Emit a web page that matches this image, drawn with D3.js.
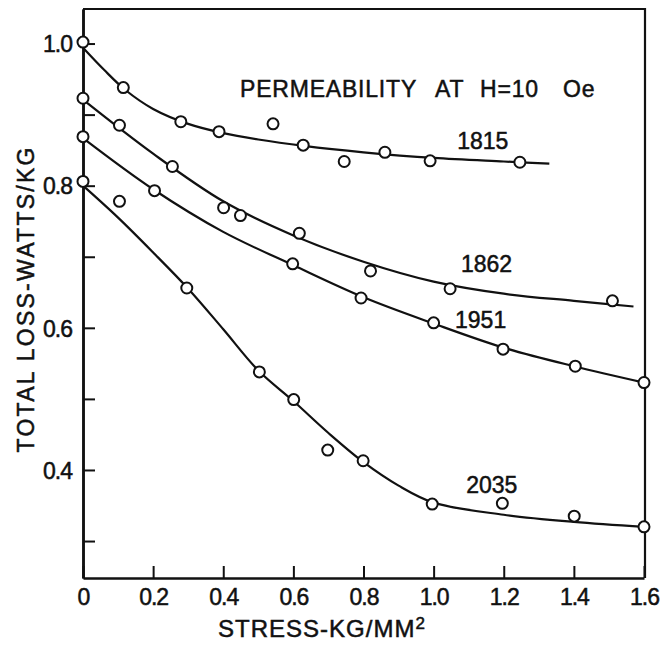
<!doctype html>
<html>
<head>
<meta charset="UTF-8">
<title>Total loss vs stress</title>
<script src="https://d3js.org/d3.v7.min.js"></script>
<style>
  body { margin: 0; background: #fff; }
  text { font-family: "Liberation Sans", Arial, sans-serif; fill: #111; stroke: #111; stroke-width: 0.5px; }
</style>
</head>
<body>
<svg id="chart" width="666" height="648"></svg>
<script>
// measured points (stress kg/mm2, total loss W/kg)
var stress1815 = [0, 0.115, 0.279, 0.388, 0.542, 0.628, 0.745, 0.861, 0.99, 1.246];
var loss1815   = [1.002, 0.938, 0.890, 0.876, 0.887, 0.857, 0.834, 0.847, 0.835, 0.833];
var stress1862 = [0, 0.104, 0.255, 0.401, 0.449, 0.617, 0.82, 1.047, 1.51];
var loss1862   = [0.923, 0.885, 0.827, 0.769, 0.758, 0.733, 0.680, 0.655, 0.638];
var stress1951 = [0, 0.204, 0.598, 0.793, 1.0, 1.198, 1.404, 1.6];
var loss1951   = [0.869, 0.793, 0.690, 0.642, 0.607, 0.570, 0.546, 0.523];
var stress2035 = [0, 0.104, 0.296, 0.503, 0.601, 0.698, 0.799, 0.996, 1.196, 1.401, 1.6];
var loss2035   = [0.806, 0.778, 0.656, 0.538, 0.499, 0.428, 0.413, 0.352, 0.353, 0.335, 0.320];

// hand drawn smooth curves
var fitX1815 = [0, 0.06, 0.12, 0.2, 0.3, 0.4, 0.5, 0.63, 0.8, 1.0, 1.2, 1.33];
var fitY1815 = [0.994, 0.963, 0.935, 0.908, 0.887, 0.874, 0.865, 0.856, 0.847, 0.839, 0.834, 0.831];
var fitX1862 = [0, 0.2, 0.4, 0.6, 0.8, 1.0, 1.2, 1.4, 1.57];
var fitY1862 = [0.921, 0.845, 0.778, 0.730, 0.693, 0.665, 0.648, 0.638, 0.630];
var fitX1951 = [0, 0.2, 0.4, 0.6, 0.8, 1.0, 1.2, 1.4, 1.6];
var fitY1951 = [0.867, 0.795, 0.735, 0.688, 0.643, 0.606, 0.572, 0.546, 0.523];
var fitX2035 = [0, 0.1, 0.2, 0.3, 0.4, 0.5, 0.6, 0.7, 0.8, 0.9, 1.0, 1.2, 1.4, 1.6];
var fitY2035 = [0.80, 0.755, 0.706, 0.655, 0.598, 0.540, 0.497, 0.452, 0.411, 0.378, 0.354, 0.337, 0.327, 0.320];

var seriesNames = ["1815", "1862", "1951", "2035"];

// ticks
var xTicks = [0, 0.2, 0.4, 0.6, 0.8, 1.0, 1.2, 1.4, 1.6];
var xTickLabels = ["0", "0.2", "0.4", "0.6", "0.8", "1.0", "1.2", "1.4", "1.6"];
var yTicks = [0.4, 0.6, 0.8, 1.0];
var yTickLabels = ["0.4", "0.6", "0.8", "1.0"];
var yMinorTicks = [0.3, 0.5, 0.7, 0.9];

var svg = d3.select("#chart");

var x = d3.scaleLinear().domain([0, 1.6]).range([83, 644]);
var y = d3.scaleLinear().domain([0.248, 1.0486]).range([578, 9]);

var series = [
  {name: seriesNames[0], sx: stress1815, sy: loss1815, fx: fitX1815, fy: fitY1815, lx: 1.14, ly: 0.851},
  {name: seriesNames[1], sx: stress1862, sy: loss1862, fx: fitX1862, fy: fitY1862, lx: 1.151, ly: 0.679},
  {name: seriesNames[2], sx: stress1951, sy: loss1951, fx: fitX1951, fy: fitY1951, lx: 1.134, ly: 0.600},
  {name: seriesNames[3], sx: stress2035, sy: loss2035, fx: fitX2035, fy: fitY2035, lx: 1.166, ly: 0.368}
];

// frame (top + right)
svg.append("path")
  .attr("d", "M" + x.range()[0] + "," + y.range()[1] + "H" + (x.range()[1] + 1) + "V" + y.range()[0])
  .attr("fill", "none")
  .attr("stroke", "#111")
  .attr("stroke-width", 2.2);

// axes
var xAxis = d3.axisBottom(x)
  .tickValues(xTicks)
  .tickFormat(function(d, i){ return xTickLabels[i]; })
  .tickSizeInner(-12).tickSizeOuter(0).tickPadding(11);

var gx = svg.append("g").attr("transform", "translate(0," + y.range()[0] + ")").call(xAxis);

var yMinor = d3.axisLeft(y)
  .tickValues(yMinorTicks)
  .tickFormat("")
  .tickSizeInner(-12).tickSizeOuter(0);
var gym = svg.append("g").attr("transform", "translate(" + x.range()[0] + ",0)").call(yMinor);

var yAxis = d3.axisLeft(y)
  .tickValues(yTicks)
  .tickFormat(function(d, i){ return yTickLabels[i]; })
  .tickSizeInner(-12).tickSizeOuter(0).tickPadding(11);
var gy = svg.append("g").attr("transform", "translate(" + x.range()[0] + ",0)").call(yAxis);

[gx, gy, gym].forEach(function(g){
  g.select(".domain").attr("stroke", "#111").attr("stroke-width", 2.5);
  g.selectAll(".tick line").attr("stroke", "#111").attr("stroke-width", 2);
  g.selectAll(".tick text")
    .style("font-family", "'Liberation Sans', Arial, sans-serif")
    .style("font-size", "23px")
    .attr("fill", "#111")
    .attr("letter-spacing", -1);
});
gy.selectAll(".tick text").attr("dy", "0.36em");

// curves
var line = d3.line()
  .x(function(d){ return x(d[0]); })
  .y(function(d){ return y(d[1]); })
  .curve(d3.curveCatmullRom.alpha(0.5));

series.forEach(function(s){
  var pts = s.fx.map(function(v, i){ return [v, s.fy[i]]; });
  svg.append("path")
    .datum(pts)
    .attr("d", line)
    .attr("fill", "none")
    .attr("stroke", "#111")
    .attr("stroke-width", 2.2);
});

// data circles
series.forEach(function(s){
  var pts = s.sx.map(function(v, i){ return [v, s.sy[i]]; });
  svg.append("g").selectAll("circle")
    .data(pts)
    .enter()
    .append("circle")
    .attr("cx", function(d){ return x(d[0]); })
    .attr("cy", function(d){ return y(d[1]); })
    .attr("r", 5.5)
    .attr("fill", "#fff")
    .attr("stroke", "#111")
    .attr("stroke-width", 2);
});

// series labels
svg.selectAll(".slabel")
  .data(series)
  .enter()
  .append("text")
  .attr("class", "slabel")
  .attr("x", function(d){ return x(d.lx); })
  .attr("y", function(d){ return y(d.ly); })
  .attr("text-anchor", "middle")
  .attr("font-size", 23)
  .text(function(d){ return d.name; });

// title inside plot, word by word
var title = svg.append("text")
  .attr("y", 97)
  .attr("font-size", 23)
  .attr("letter-spacing", 0.8);
title.append("tspan").attr("x", 240).text("PERMEABILITY");
title.append("tspan").attr("x", 435).text("AT");
title.append("tspan").attr("x", 480).text("H=10");
title.append("tspan").attr("x", 563).text("Oe");

// axis titles
var xt = svg.append("text")
  .attr("x", 322)
  .attr("y", 637)
  .attr("text-anchor", "middle")
  .attr("font-size", 24)
  .attr("letter-spacing", 1);
xt.append("tspan").text("STRESS-KG/MM");
xt.append("tspan").attr("font-size", 17).attr("dy", -8).text("2");

svg.append("text")
  .attr("transform", "translate(34,300) rotate(-90)")
  .attr("text-anchor", "middle")
  .attr("font-size", 23)
  .attr("textLength", 305)
  .attr("lengthAdjust", "spacing")
  .text("TOTAL  LOSS-WATTS/KG");
</script>
</body>
</html>
